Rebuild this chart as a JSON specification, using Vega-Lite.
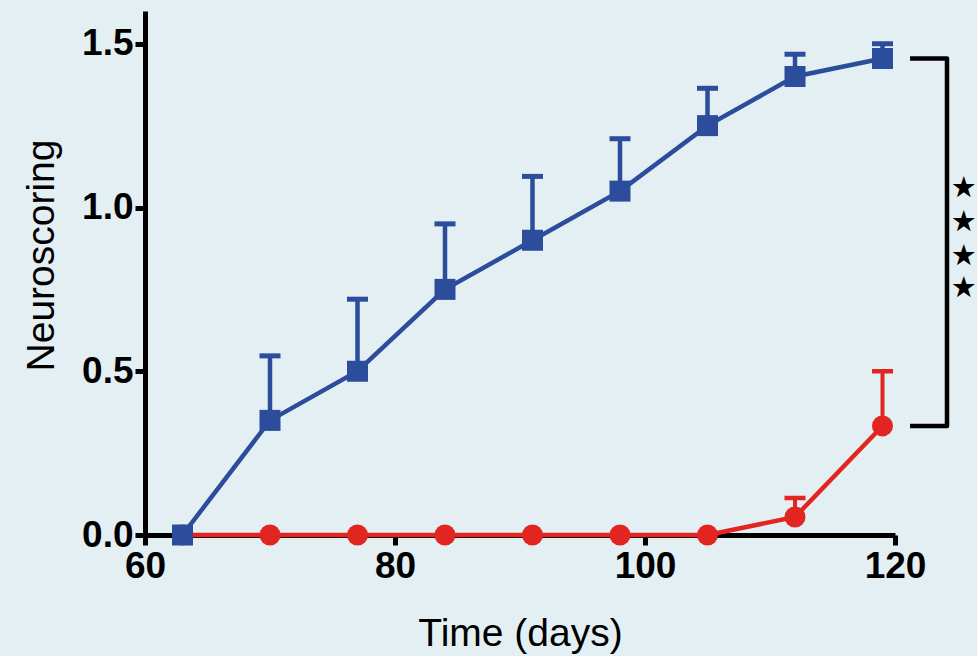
{
  "$schema": "https://vega.github.io/schema/vega-lite/v6.json",
  "autosize": "none",
  "width": 750,
  "height": 524,
  "padding": {"left": 145, "top": 11, "right": 82, "bottom": 121},
  "background": "#e3eff2",
  "config": {
    "view": {"stroke": null},
    "axis": {
      "grid": false,
      "labelFlush": false,
      "domainColor": "black",
      "domainWidth": 5,
      "tickColor": "black",
      "tickWidth": 5,
      "tickSize": 10,
      "labelFont": "Liberation Sans",
      "labelFontWeight": "bold",
      "labelFontSize": 37,
      "labelColor": "black",
      "titleFont": "Liberation Sans",
      "titleFontWeight": "normal",
      "titleFontSize": 39,
      "titleColor": "black"
    }
  },
  "datasets": {
    "scores": [
      {"day": 63, "score": 0, "hi": null, "group": "squares"},
      {"day": 70, "score": 0.35, "hi": 0.547, "group": "squares"},
      {"day": 77, "score": 0.5, "hi": 0.72, "group": "squares"},
      {"day": 84, "score": 0.75, "hi": 0.95, "group": "squares"},
      {"day": 91, "score": 0.9, "hi": 1.095, "group": "squares"},
      {"day": 98, "score": 1.05, "hi": 1.21, "group": "squares"},
      {"day": 105, "score": 1.25, "hi": 1.364, "group": "squares"},
      {"day": 112, "score": 1.4, "hi": 1.468, "group": "squares"},
      {"day": 119, "score": 1.455, "hi": 1.5, "group": "squares"},
      {"day": 63, "score": 0, "hi": null, "group": "circles"},
      {"day": 70, "score": 0, "hi": null, "group": "circles"},
      {"day": 77, "score": 0, "hi": null, "group": "circles"},
      {"day": 84, "score": 0, "hi": null, "group": "circles"},
      {"day": 91, "score": 0, "hi": null, "group": "circles"},
      {"day": 98, "score": 0, "hi": null, "group": "circles"},
      {"day": 105, "score": 0, "hi": null, "group": "circles"},
      {"day": 112, "score": 0.055, "hi": 0.113, "group": "circles"},
      {"day": 119, "score": 0.333, "hi": 0.5, "group": "circles"}
    ],
    "bracket": [
      {"order": 1, "day": 121.2, "score": 1.455},
      {"order": 2, "day": 124.16, "score": 1.455},
      {"order": 3, "day": 124.16, "score": 0.333},
      {"order": 4, "day": 121.2, "score": 0.333}
    ],
    "stars": [
      {"day": 125.5, "score": 1.061, "label": "★"},
      {"day": 125.5, "score": 0.957, "label": "★"},
      {"day": 125.5, "score": 0.853, "label": "★"},
      {"day": 125.5, "score": 0.755, "label": "★"}
    ]
  },
  "encoding": {
    "x": {
      "field": "day",
      "type": "quantitative",
      "scale": {"domain": [60, 120], "nice": false, "zero": false},
      "axis": {"values": [60, 80, 100, 120], "title": "Time (days)", "labelPadding": 3, "titlePadding": 30}
    },
    "y": {
      "field": "score",
      "type": "quantitative",
      "scale": {"domain": [0, 1.6], "nice": false},
      "axis": {"values": [0, 0.5, 1, 1.5], "format": ".1f", "title": "Neuroscoring", "labelPadding": 2, "titlePadding": 20, "titleY": 244}
    }
  },
  "layer": [
    {
      "data": {"name": "bracket"},
      "mark": {"type": "line", "color": "black", "strokeWidth": 4.5, "strokeJoin": "round", "clip": false},
      "encoding": {"order": {"field": "order", "type": "quantitative"}}
    },
    {
      "data": {"name": "stars"},
      "mark": {"type": "text", "font": "DejaVu Sans", "fontSize": 29, "color": "black", "align": "center", "baseline": "middle", "clip": false},
      "encoding": {"text": {"field": "label"}}
    },
    {
      "data": {"name": "scores"},
      "transform": [{"filter": "datum.group === 'circles' && datum.hi != null"}],
      "mark": {"type": "rule", "color": "#e32522", "strokeWidth": 4},
      "encoding": {"y2": {"field": "hi"}}
    },
    {
      "data": {"name": "scores"},
      "transform": [{"filter": "datum.group === 'circles' && datum.hi != null"}],
      "mark": {"type": "rule", "color": "#e32522", "strokeWidth": 4.5, "xOffset": -10.5, "x2Offset": 10.5},
      "encoding": {"y": {"field": "hi", "type": "quantitative"}, "x2": {"field": "day"}}
    },
    {
      "data": {"name": "scores"},
      "transform": [{"filter": "datum.group === 'circles'"}],
      "mark": {"type": "line", "color": "#e32522", "strokeWidth": 4.5, "clip": false}
    },
    {
      "data": {"name": "scores"},
      "transform": [{"filter": "datum.group === 'circles'"}],
      "mark": {"type": "point", "shape": "circle", "filled": true, "opacity": 1, "color": "#e32522", "size": 441, "clip": false}
    },
    {
      "data": {"name": "scores"},
      "transform": [{"filter": "datum.group === 'squares' && datum.hi != null"}],
      "mark": {"type": "rule", "color": "#2c4c9c", "strokeWidth": 4.5},
      "encoding": {"y2": {"field": "hi"}}
    },
    {
      "data": {"name": "scores"},
      "transform": [{"filter": "datum.group === 'squares' && datum.hi != null"}],
      "mark": {"type": "rule", "color": "#2c4c9c", "strokeWidth": 5, "xOffset": -10.5, "x2Offset": 10.5},
      "encoding": {"y": {"field": "hi", "type": "quantitative"}, "x2": {"field": "day"}}
    },
    {
      "data": {"name": "scores"},
      "transform": [{"filter": "datum.group === 'squares'"}],
      "mark": {"type": "line", "color": "#2c4c9c", "strokeWidth": 4.5, "clip": false}
    },
    {
      "data": {"name": "scores"},
      "transform": [{"filter": "datum.group === 'squares'"}],
      "mark": {"type": "point", "shape": "square", "filled": true, "opacity": 1, "color": "#2c4c9c", "size": 441, "clip": false}
    }
  ]
}
